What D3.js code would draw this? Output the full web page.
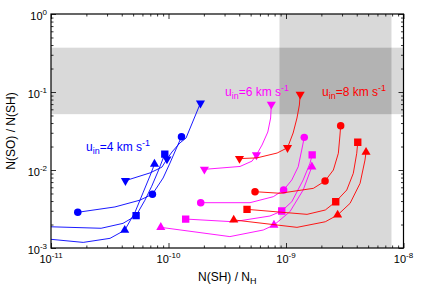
<!DOCTYPE html>
<html>
<head>
<meta charset="utf-8">
<script src="https://cdn.jsdelivr.net/npm/d3@7"></script>
<style>
  body { margin: 0; background: #fff; }
  text { font-family: "Liberation Sans", Arial, sans-serif; }
</style>
</head>
<body>
<div id="main"></div>
<script>
// observed ranges (grey bands)
var obsSO = [0.052, 0.37];
var obsSH = [8.8e-10, 7.9e-9];

// axes
var xMajor = [1e-11, 1e-10, 1e-9, 1e-8];
var xExp = ["-11", "-10", "-9", "-8"];
var yMajor = [1e-3, 1e-2, 1e-1, 1];
var yExp = ["-3", "-2", "-1", "0"];

// u_in = 4 km/s  [N(SH)/NH, N(SO)/N(SH)]
var u4Circle = [[1.69e-11,2.87e-3],[3.5e-11,3.36e-3],[5.7e-11,4.1e-3],[7.3e-11,4.9e-3],[9.0e-11,7.9e-3],[1.03e-10,1.23e-2],[1.18e-10,1.97e-2],[1.29e-10,2.67e-2]];
var u4Square = [[7e-12,1.9e-3],[2.67e-11,1.79e-3],[4.1e-11,2.07e-3],[5.3e-11,2.6e-3],[6.3e-11,4.1e-3],[7.2e-11,6.2e-3],[8.1e-11,9.4e-3],[9.3e-11,1.6e-2]];
var u4TriUp  = [[7e-12,1.36e-3],[1.88e-11,1.18e-3],[3.18e-11,1.33e-3],[4.24e-11,1.69e-3],[5.2e-11,2.9e-3],[6.1e-11,5.2e-3],[7.0e-11,8.6e-3],[7.6e-11,1.19e-2]];
var u4TriDn  = [[4.3e-11,7.3e-3],[7.0e-11,9.2e-3],[8.8e-11,1.09e-2],[9.7e-11,1.38e-2],[1.07e-10,1.7e-2],[1.25e-10,2.22e-2],[1.41e-10,2.57e-2],[1.87e-10,7.2e-2]];

// u_in = 6 km/s
var u6Circle = [[1.88e-10,3.81e-3],[4.94e-10,3.81e-3],[7.8e-10,4.55e-3],[9.55e-10,5.54e-3],[1.12e-9,7.45e-3],[1.27e-9,1.1e-2],[1.36e-9,1.8e-2],[1.43e-9,2.62e-2]];
var u6Square = [[1.4e-10,2.35e-3],[3.56e-10,2.17e-3],[7.3e-10,2.57e-3],[9.2e-10,2.98e-3],[1.12e-9,3.92e-3],[1.4e-9,7.45e-3],[1.6e-9,1.22e-2],[1.67e-9,1.56e-2]];
var u6TriUp  = [[8.6e-11,1.84e-3],[3.33e-10,1.4e-3],[6.4e-10,1.7e-3],[7.9e-10,1.97e-3],[1.08e-9,2.92e-3],[1.4e-9,5.54e-3],[1.6e-9,9.5e-3],[1.66e-9,1.1e-2]];
var u6TriDn  = [[2.02e-10,1.02e-2],[4.06e-10,1.11e-2],[5.14e-10,1.3e-2],[5.6e-10,1.56e-2],[6.25e-10,2.09e-2],[7.0e-10,3.07e-2],[7.4e-10,4.64e-2],[7.5e-10,6.95e-2]];

// u_in = 8 km/s
var u8Circle = [[5.45e-10,5.27e-3],[8.9e-10,5.03e-3],[1.71e-9,5.82e-3],[2.15e-9,7.23e-3],[2.53e-9,1.0e-2],[2.79e-9,1.64e-2],[2.88e-9,2.81e-2],[2.92e-9,3.7e-2]];
var u8Square = [[4.66e-10,3.13e-3],[1.51e-9,2.7e-3],[2.16e-9,3.07e-3],[2.65e-9,3.92e-3],[3.29e-9,5.54e-3],[3.74e-9,9.07e-3],[4.0e-9,1.64e-2],[4.08e-9,2.27e-2]];
var u8TriUp  = [[3.59e-10,2.29e-3],[1.24e-9,1.84e-3],[2.16e-9,2.17e-3],[2.75e-9,2.65e-3],[3.51e-9,3.74e-3],[4.27e-9,6.75e-3],[4.7e-9,1.34e-2],[4.8e-9,1.69e-2]];
var u8TriDn  = [[4.02e-10,1.4e-2],[5.66e-10,1.43e-2],[8.4e-10,1.65e-2],[1.03e-9,1.93e-2],[1.15e-9,2.98e-2],[1.24e-9,4.64e-2],[1.3e-9,6.81e-2],[1.32e-9,9.35e-2]];

// which points carry a marker
var marks = [0, 3, 7];

var series = [
  {pts: u4Circle, shape: "circle", color: "#0000ff"},
  {pts: u4Square, shape: "square", color: "#0000ff"},
  {pts: u4TriUp,  shape: "up",     color: "#0000ff"},
  {pts: u4TriDn,  shape: "down",   color: "#0000ff"},
  {pts: u6Circle, shape: "circle", color: "#ff00ff"},
  {pts: u6Square, shape: "square", color: "#ff00ff"},
  {pts: u6TriUp,  shape: "up",     color: "#ff00ff"},
  {pts: u6TriDn,  shape: "down",   color: "#ff00ff"},
  {pts: u8Circle, shape: "circle", color: "#ff0000"},
  {pts: u8Square, shape: "square", color: "#ff0000"},
  {pts: u8TriUp,  shape: "up",     color: "#ff0000"},
  {pts: u8TriDn,  shape: "down",   color: "#ff0000"}
];

var labels = [
  {v: "4", color: "#0000ff", x: 86, y: 151},
  {v: "6", color: "#ff00ff", x: 225, y: 96},
  {v: "8", color: "#ff0000", x: 322, y: 96}
];

var W = 425, H = 298;
var L = 51, R = 403.5, T = 14, B = 248;

var svg = d3.select("#main").append("svg")
  .attr("width", W).attr("height", H);

var x = d3.scaleLog().domain([1e-11, 1e-8]).range([L, R]);
var y = d3.scaleLog().domain([1e-3, 1]).range([B, T]);

svg.append("clipPath").attr("id", "clip")
  .append("rect").attr("x", L).attr("y", T).attr("width", R - L).attr("height", B - T);

// grey bands
var bands = svg.append("g");
bands.append("rect")
  .attr("x", L).attr("width", R - L)
  .attr("y", y(obsSO[1])).attr("height", y(obsSO[0]) - y(obsSO[1]))
  .attr("fill", "#d9d9d9");
bands.append("rect")
  .attr("x", x(obsSH[0])).attr("width", x(obsSH[1]) - x(obsSH[0]))
  .attr("y", T).attr("height", B - T)
  .attr("fill", "#d9d9d9");
bands.append("rect")
  .attr("x", x(obsSH[0])).attr("width", x(obsSH[1]) - x(obsSH[0]))
  .attr("y", y(obsSO[1])).attr("height", y(obsSO[0]) - y(obsSO[1]))
  .attr("fill", "#b3b3b3");

// ticks, inward on all four sides
var xMinor = x.ticks().filter(function(d) { return xMajor.indexOf(d) < 0; });
var yMinor = y.ticks().filter(function(d) { return yMajor.indexOf(d) < 0; });

function tickAxis(gen, vals, size, tx, ty) {
  var g = svg.append("g")
    .attr("transform", "translate(" + tx + "," + ty + ")")
    .call(gen.tickValues(vals).tickSize(size).tickFormat(""));
  g.select(".domain").remove();
  g.selectAll("line").attr("stroke", "#000").attr("stroke-width", 0.8);
}
tickAxis(d3.axisBottom(x), xMajor, -5, 0, B);
tickAxis(d3.axisBottom(x), xMinor, -2.5, 0, B);
tickAxis(d3.axisTop(x), xMajor, -5, 0, T);
tickAxis(d3.axisTop(x), xMinor, -2.5, 0, T);
tickAxis(d3.axisLeft(y), yMajor, -5, L, 0);
tickAxis(d3.axisLeft(y), yMinor, -2.5, L, 0);
tickAxis(d3.axisRight(y), yMajor, -5, R, 0);
tickAxis(d3.axisRight(y), yMinor, -2.5, R, 0);

// tick labels
var xl = svg.append("g").selectAll("text").data(xMajor).enter().append("text")
  .attr("x", function(d) { return x(d); })
  .attr("y", B + 15)
  .attr("text-anchor", "middle")
  .attr("font-size", 11);
xl.append("tspan").text("10");
xl.append("tspan").attr("dy", -5).attr("font-size", 8).text(function(d, i) { return xExp[i]; });

var yl = svg.append("g").selectAll("text").data(yMajor).enter().append("text")
  .attr("x", L - 4)
  .attr("y", function(d) { return y(d) + 6; })
  .attr("text-anchor", "end")
  .attr("font-size", 11);
yl.append("tspan").text("10");
yl.append("tspan").attr("dy", -5).attr("font-size", 8).text(function(d, i) { return yExp[i]; });

// curves
var line = d3.line()
  .x(function(d) { return x(d[0]); })
  .y(function(d) { return y(d[1]); });

var plot = svg.append("g").attr("clip-path", "url(#clip)");

var symbols = {
  circle: d3.symbol().type(d3.symbolCircle).size(44),
  square: d3.symbol().type(d3.symbolSquare).size(54),
  up: d3.symbol().type(d3.symbolTriangle).size(36),
  down: d3.symbol().type(d3.symbolTriangle).size(36)
};

series.forEach(function(s) {
  plot.append("path")
    .attr("d", line(s.pts))
    .attr("fill", "none")
    .attr("stroke", s.color)
    .attr("stroke-width", 0.9);

  plot.selectAll(null)
    .data(marks.map(function(i) { return s.pts[i]; }))
    .enter().append("path")
    .attr("d", symbols[s.shape]())
    .attr("fill", s.color)
    .attr("transform", function(d) {
      return "translate(" + x(d[0]) + "," + y(d[1]) + ")" + (s.shape == "down" ? " rotate(180)" : "");
    });
});

// frame
svg.append("rect")
  .attr("x", L).attr("y", T).attr("width", R - L).attr("height", B - T)
  .attr("fill", "none").attr("stroke", "#000").attr("stroke-width", 1.2);

// legend labels
labels.forEach(function(l) {
  var t = svg.append("text")
    .attr("x", l.x).attr("y", l.y)
    .attr("font-size", 12)
    .attr("fill", l.color);
  t.append("tspan").text("u");
  t.append("tspan").attr("dy", 3).attr("font-size", 9).text("in");
  t.append("tspan").attr("dy", -3).text("=" + l.v + " km s");
  t.append("tspan").attr("dy", -5).attr("font-size", 9).text("-1");
});

// axis titles
var xt = svg.append("text")
  .attr("x", (L + R) / 2).attr("y", 281)
  .attr("text-anchor", "middle")
  .attr("font-size", 12);
xt.append("tspan").text("N(SH) / N");
xt.append("tspan").attr("dy", 3).attr("font-size", 9).text("H");

svg.append("text")
  .attr("transform", "translate(15," + (T + B) / 2 + ") rotate(-90)")
  .attr("text-anchor", "middle")
  .attr("font-size", 12)
  .text("N(SO) / N(SH)");
</script>
</body>
</html>
